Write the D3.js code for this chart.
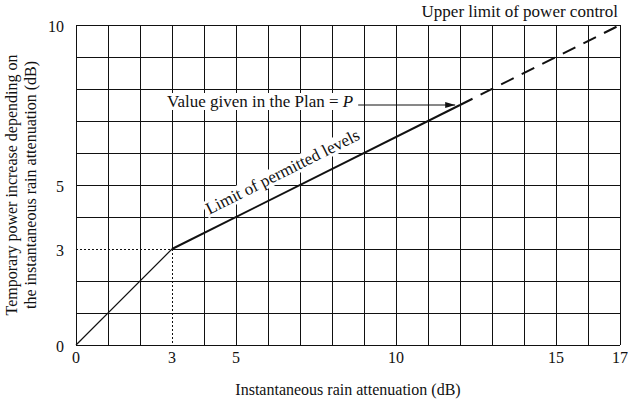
<!DOCTYPE html>
<html>
<head>
<script src="https://d3js.org/d3.v7.min.js"></script>
<style>
  body { margin: 0; background: #fff; }
  text { font-family: "Liberation Serif", "Times New Roman", serif; fill: #111; }
</style>
</head>
<body>
<div id="chart"></div>
<script>
// data
var xTicks = [0, 3, 5, 10, 15, 17];
var yTicks = [0, 3, 5, 10];
var gridX = d3.range(1, 18);   // vertical grid at every dB
var gridY = d3.range(1, 11);
var limitPts = [[0, 0], [3, 3]];            // thin part
var permittedPts = [[3, 3], [12, 7.5]];     // limit of permitted levels
var upperPts = [[12, 7.5], [17, 10]];       // dashed up to upper limit
var kneeX = 3, kneeY = 3;

var margin = {top: 25, right: 8, bottom: 55, left: 76},
    W = 628, H = 400,
    width = W - margin.left - margin.right,
    height = H - margin.top - margin.bottom;

var svg = d3.select("#chart").append("svg")
    .attr("width", W).attr("height", H)
  .append("g")
    .attr("transform", "translate(" + margin.left + "," + margin.top + ")");

var x = d3.scaleLinear().domain([0, 17]).range([0, width]);
var y = d3.scaleLinear().domain([0, 10]).range([height, 0]);

// grid
var grid = svg.append("g").attr("stroke", "#111").attr("stroke-width", 1)
  .attr("shape-rendering", "crispEdges");

grid.selectAll(".vx").data(gridX).enter().append("line")
  .attr("x1", d => x(d)).attr("x2", d => x(d))
  .attr("y1", 0)
  .attr("y2", d => d == kneeX ? y(kneeY) : height);

grid.selectAll(".hy").data(gridY).enter().append("line")
  .attr("y1", d => y(d)).attr("y2", d => y(d))
  .attr("x1", d => d == kneeY ? x(kneeX) : 0)
  .attr("x2", width);

// axes frame lines
grid.append("line").attr("x1", 0).attr("x2", 0).attr("y1", 0).attr("y2", height);
grid.append("line").attr("x1", 0).attr("x2", width).attr("y1", height).attr("y2", height);

// dotted guides to the knee
svg.append("line")
  .attr("x1", 0).attr("x2", x(kneeX)).attr("y1", y(kneeY)).attr("y2", y(kneeY))
  .attr("stroke", "#111").attr("stroke-dasharray", "2,2").attr("shape-rendering", "crispEdges");
svg.append("line")
  .attr("x1", x(kneeX)).attr("x2", x(kneeX)).attr("y1", y(kneeY)).attr("y2", height)
  .attr("stroke", "#111").attr("stroke-dasharray", "2,2").attr("shape-rendering", "crispEdges");

// labels with white backing
function backed(sel) {
  var node = sel.node(), bb = node.getBBox();
  d3.select(node.parentNode).insert("rect", function() { return node; })
    .attr("x", bb.x - 2).attr("y", bb.y + 1)
    .attr("width", bb.width + 4).attr("height", bb.height - 2)
    .attr("fill", "#fff");
}

var line = d3.line().x(d => x(d[0])).y(d => y(d[1]));

// rotated label
var ang = -Math.atan2(y(permittedPts[0][1]) - y(permittedPts[1][1]), x(permittedPts[1][0]) - x(permittedPts[0][0])) * 180 / Math.PI;
var lp = [6.73, 3 + 0.5 * 3.73];
var lg = svg.append("g")
  .attr("transform", "translate(" + x(lp[0]) + "," + y(lp[1]) + ") rotate(" + ang + ")");
var lt = lg.append("text").attr("text-anchor", "middle").attr("y", -14)
  .style("font-size", "17px").text("Limit of permitted levels");
backed(lt);

// plan label
var pg = svg.append("g");
var pt = pg.append("text").attr("x", 167 - margin.left).attr("y", 107 - margin.top)
  .style("font-size", "17px");
pt.append("tspan").text("Value given in the Plan = ");
pt.append("tspan").style("font-style", "italic").text("P");
backed(pt);

// data lines
svg.append("path").datum(limitPts).attr("d", line)
  .attr("fill", "none").attr("stroke", "#111").attr("stroke-width", 1.2);
svg.append("path").datum(permittedPts).attr("d", line)
  .attr("fill", "none").attr("stroke", "#111").attr("stroke-width", 2);
svg.append("path").datum(upperPts).attr("d", line)
  .attr("fill", "none").attr("stroke", "#111").attr("stroke-width", 2)
  .attr("stroke-dasharray", "14,9");

// arrow to the plan value
svg.append("defs").append("marker")
  .attr("id", "ah").attr("viewBox", "0 0 10 6").attr("refX", 10).attr("refY", 3)
  .attr("markerWidth", 11).attr("markerHeight", 6).attr("markerUnits", "userSpaceOnUse")
  .attr("orient", "auto")
  .append("path").attr("d", "M0,0L10,3L0,6Z").attr("fill", "#111");
var ptEnd = pt.node().getBBox();
svg.append("line")
  .attr("x1", ptEnd.x + ptEnd.width + 5).attr("x2", x(11.85))
  .attr("y1", y(7.5)).attr("y2", y(7.5))
  .attr("stroke", "#111").attr("stroke-width", 1)
  .attr("marker-end", "url(#ah)");

// tick labels
svg.selectAll(".xt").data(xTicks).enter().append("text")
  .attr("x", d => x(d)).attr("y", height + 18)
  .attr("text-anchor", "middle").style("font-size", "16px").text(d => d);
svg.selectAll(".yt").data(yTicks).enter().append("text")
  .attr("x", -12).attr("y", d => y(d) + 6.5)
  .attr("text-anchor", "end").style("font-size", "16px").text(d => d);

// axis titles
svg.append("text").attr("x", width / 2).attr("y", height + 50)
  .attr("text-anchor", "middle").style("font-size", "16px")
  .text("Instantaneous rain attenuation (dB)");

var yt = svg.append("text")
  .attr("transform", "translate(" + (-margin.left + 17) + "," + (height / 2) + ") rotate(-90)")
  .attr("text-anchor", "middle").style("font-size", "16px");
yt.append("tspan").attr("x", 0).attr("dy", 0).text("Temporary power increase depending on");
yt.append("tspan").attr("x", 0).attr("dy", 19).text("the instantaneous rain attenuation (dB)");

svg.append("text").attr("x", width - 2).attr("y", -8)
  .attr("text-anchor", "end").style("font-size", "17px")
  .text("Upper limit of power control");
</script>
</body>
</html>
